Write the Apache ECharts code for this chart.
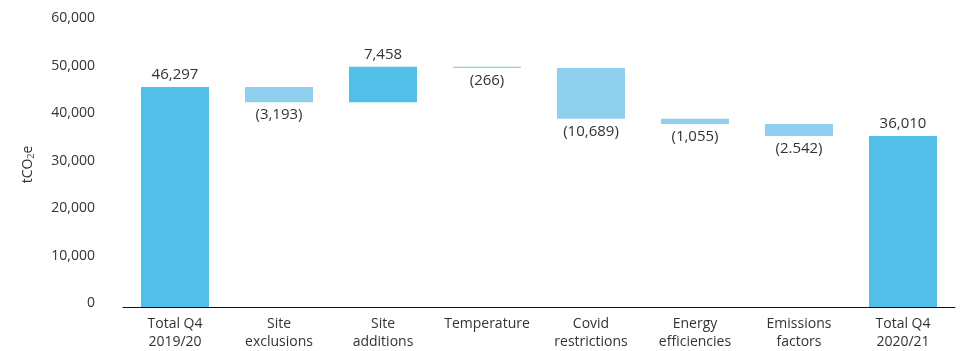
<!DOCTYPE html>
<html>
<head>
<meta charset="utf-8">
<script src="https://cdn.jsdelivr.net/npm/echarts@6/dist/echarts.min.js"></script>
<style>
    html, body { margin: 0; padding: 0; background: #fff; }
    #container { width: 977px; height: 351px; }
</style>
</head>
<body>
<div id="container"></div>
<script>
// categories on the x axis
var categories = ['Total Q4\n2019/20', 'Site\nexclusions', 'Site\nadditions', 'Temperature',
    'Covid\nrestrictions', 'Energy\nefficiencies', 'Emissions\nfactors', 'Total Q4\n2020/21'];
// change per step (totals are absolute)
var changes = [46297, -3193, 7458, -266, -10689, -1055, -2542, 36010];
var isTotal = [true, false, false, false, false, false, false, true];
// labels as printed on the chart
var valueLabels = ['46,297', '(3,193)', '7,458', '(266)', '(10,689)', '(1,055)', '(2.542)', '36,010'];
// y axis ticks
var yTicks = [0, 10000, 20000, 30000, 40000, 50000, 60000];

var darkBlue = '#52bfe8';
var lightBlue = '#8ecfee';
var font = 'Open Sans';

// build waterfall base + visible bar
var baseData = [], barData = [];
var running = 0;
for (var i = 0; i < changes.length; i++) {
    var v = changes[i];
    if (isTotal[i]) {
        baseData.push(0);
        barData.push({ value: v, itemStyle: { color: darkBlue },
            label: { position: 'top', formatter: valueLabels[i] } });
        running = v;
    } else if (v >= 0) {
        baseData.push(running);
        barData.push({ value: v, itemStyle: { color: darkBlue },
            label: { position: 'top', formatter: valueLabels[i] } });
        running += v;
    } else {
        running += v;
        baseData.push(running);
        barData.push({ value: -v, itemStyle: { color: lightBlue },
            label: { position: 'bottom', formatter: valueLabels[i] } });
    }
}

var myChart = echarts.init(document.getElementById('container'));
var option = {
    animation: false,
    textStyle: { fontFamily: font },
    grid: { left: 123, right: 22, top: 22, bottom: 42 },
    xAxis: {
        type: 'category',
        data: categories,
        axisLine: { lineStyle: { color: '#111', width: 1 } },
        axisTick: { show: false },
        axisLabel: { color: '#333', fontSize: 14, lineHeight: 18, margin: 8, interval: 0, fontFamily: font }
    },
    yAxis: {
        type: 'value',
        min: yTicks[0],
        max: yTicks[yTicks.length - 1],
        interval: yTicks[1] - yTicks[0],
        splitLine: { show: false },
        axisLine: { show: false },
        axisTick: { show: false },
        axisLabel: {
            color: '#333', fontSize: 14, margin: 28, fontFamily: font,
            verticalAlign: 'bottom', lineHeight: 7,
            formatter: function (v) { return v.toLocaleString('en-US'); }
        },
        name: '{a|tCO}{b|2}{a|e}',
        nameLocation: 'middle',
        nameRotate: 90,
        nameGap: 87,
        nameTextStyle: {
            rich: {
                a: { fontSize: 14, color: '#333', fontFamily: font },
                b: { fontSize: 9, color: '#333', fontFamily: font, verticalAlign: 'bottom', padding: [6, 0, 0, 0] }
            }
        }
    },
    series: [
        {
            type: 'bar',
            stack: 'wf',
            data: baseData,
            itemStyle: { color: 'transparent' },
            emphasis: { disabled: true },
            silent: true
        },
        {
            type: 'bar',
            stack: 'wf',
            barWidth: 68,
            data: barData,
            label: { show: true, color: '#333', fontSize: 15, distance: 5, fontFamily: font }
        }
    ]
};
myChart.setOption(option);
</script>
</body>
</html>
